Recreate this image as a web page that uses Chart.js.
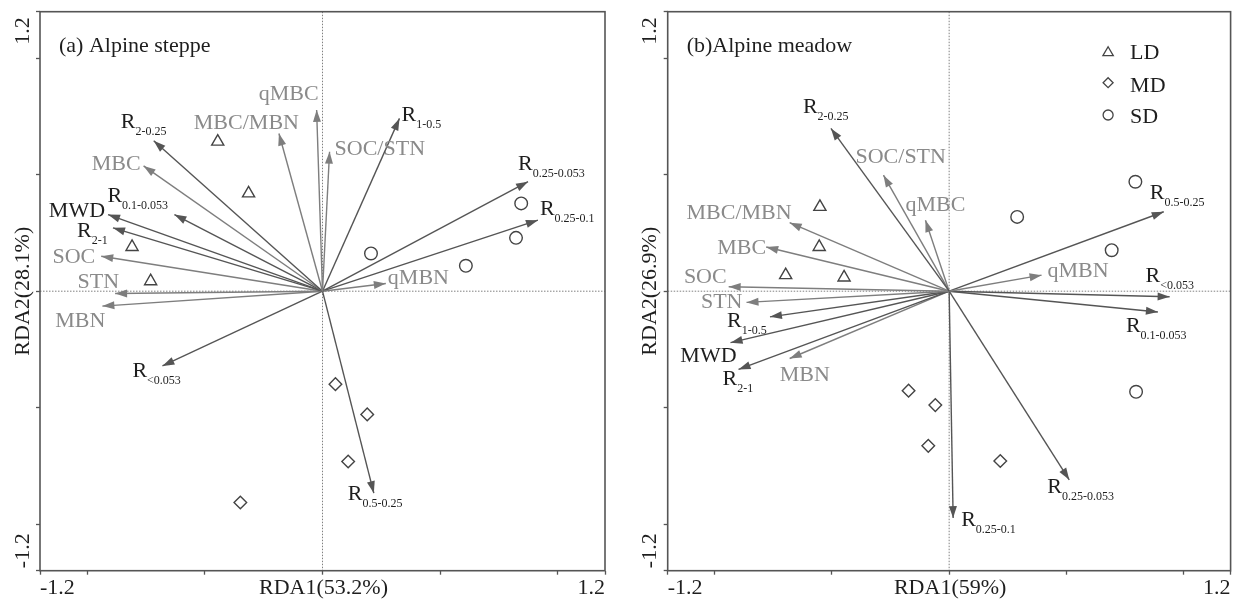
<!DOCTYPE html>
<html>
<head>
<meta charset="utf-8">
<script src="https://cdn.jsdelivr.net/npm/chart.js@4/dist/chart.umd.min.js"></script>
<style>
  html, body { margin: 0; padding: 0; background: #ffffff; }
  #wrap { position: relative; width: 1239px; height: 603px; overflow: hidden; }
  .panel { position: absolute; top: 0; height: 603px; }
  #pa { left: 0; width: 620px; }
  #pb { left: 620px; width: 619px; }
</style>
</head>
<body>
<div id="wrap">
  <div class="panel" id="pa"><canvas id="ca"></canvas></div>
  <div class="panel" id="pb"><canvas id="cb"></canvas></div>
</div>
<script>
// ---------------- DATA ----------------
const axisMin = -1.2;
const axisMax = 1.2;
const tickValues = [-1.2, -1, -0.5, 0, 0.5, 1, 1.2];
const edgeTickLabels = ['-1.2', '1.2'];
const siteGroups = ['LD', 'MD', 'SD'];

// (a) Alpine steppe – explanatory arrows
const steppeVarLabels = ['qMBC', 'MBC/MBN', 'SOC/STN', 'R_1-0.5', 'R_2-0.25', 'MBC', 'R_0.1-0.053', 'MWD', 'R_2-1',
  'SOC', 'STN', 'MBN', 'R_<0.053', 'R_0.5-0.25', 'qMBN', 'R_0.25-0.053', 'R_0.25-0.1'];
const steppeVarRDA1 = [-0.025, -0.185, 0.030, 0.327, -0.717, -0.760, -0.629, -0.911, -0.890,
  -0.940, -0.881, -0.935, -0.680, 0.218, 0.269, 0.873, 0.915];
const steppeVarRDA2 = [0.778, 0.677, 0.599, 0.742, 0.646, 0.538, 0.329, 0.329, 0.272,
  0.150, -0.010, -0.064, -0.321, -0.867, 0.033, 0.470, 0.305];
// (a) sites
const steppeLD_RDA1 = [-0.445, -0.314, -0.809, -0.730];
const steppeLD_RDA2 = [0.642, 0.420, 0.190, 0.043];
const steppeMD_RDA1 = [0.055, 0.190, 0.109, -0.349];
const steppeMD_RDA2 = [-0.399, -0.529, -0.731, -0.907];
const steppeSD_RDA1 = [0.206, 0.609, 0.844, 0.822];
const steppeSD_RDA2 = [0.162, 0.109, 0.377, 0.229];

// (b) Alpine meadow – explanatory arrows
const meadowVarLabels = ['R_2-0.25', 'SOC/STN', 'qMBC', 'MBC/MBN', 'MBC', 'SOC', 'STN', 'R_1-0.5', 'MWD', 'R_2-1',
  'MBN', 'qMBN', 'R_0.5-0.25', 'R_<0.053', 'R_0.1-0.053', 'R_0.25-0.053', 'R_0.25-0.1'];
const meadowVarRDA1 = [-0.504, -0.280, -0.101, -0.680, -0.780, -0.940, -0.864, -0.764, -0.932, -0.898,
  -0.680, 0.394, 0.915, 0.940, 0.890, 0.512, 0.017];
const meadowVarRDA2 = [0.699, 0.498, 0.305, 0.294, 0.190, 0.019, -0.048, -0.110, -0.221, -0.336,
  -0.289, 0.069, 0.341, -0.024, -0.089, -0.810, -0.974];
// (b) sites
const meadowLD_RDA1 = [-0.551, -0.554, -0.697, -0.448];
const meadowLD_RDA2 = [0.362, 0.190, 0.069, 0.059];
const meadowMD_RDA1 = [-0.173, -0.059, -0.089, 0.218];
const meadowMD_RDA2 = [-0.427, -0.489, -0.664, -0.729];
const meadowSD_RDA1 = [0.794, 0.290, 0.693, 0.797];
const meadowSD_RDA2 = [0.470, 0.319, 0.176, -0.432];

// ---------------- LAYOUT / STYLE (not data) ----------------
// label offsets in pixels from the arrow tip: [dx, dy(baseline), align]
const labelLayout = {
  steppe: {
    'qMBC': [2, -10, 'right'], 'MBC/MBN': [20, -5, 'right'], 'SOC/STN': [5, 3, 'left'],
    'R_1-0.5': [2, 3, 'left'], 'R_2-0.25': [-33, -13, 'left'], 'MBC': [-3, 4, 'right'],
    'R_0.1-0.053': [-67, -13, 'left'], 'MWD': [-3, 2, 'right'], 'R_2-1': [-36, 9, 'left'],
    'SOC': [-6, 7, 'right'], 'STN': [4, -6, 'right'], 'MBN': [3, 21, 'right'],
    'R_<0.053': [-30, 11, 'left'], 'R_0.5-0.25': [-26, 7, 'left'], 'qMBN': [2, 0, 'left'],
    'R_0.25-0.053': [-10, -12, 'left'], 'R_0.25-0.1': [2, -5, 'left']
  },
  meadow: {
    'R_2-0.25': [-28, -15, 'left'], 'SOC/STN': [-28, -12, 'left'], 'qMBC': [-20, -9, 'left'],
    'MBC/MBN': [2, -4, 'right'], 'MBC': [0, 7, 'right'], 'SOC': [-2, -4, 'right'],
    'STN': [-4, 6, 'right'], 'R_1-0.5': [-43, 10, 'left'], 'MWD': [6, 19, 'right'],
    'R_2-1': [-16, 16, 'left'], 'MBN': [-10, 22, 'left'], 'qMBN': [6, 2, 'left'],
    'R_0.5-0.25': [-14, -13, 'left'], 'R_<0.053': [-24, -15, 'left'], 'R_0.1-0.053': [-32, 20, 'left'],
    'R_0.25-0.053': [-22, 13, 'left'], 'R_0.25-0.1': [8, 8, 'left']
  }
};

const FONT_FAMILY = '"Liberation Serif", "Times New Roman", serif';
const MAIN_FONT = '22px ' + FONT_FAMILY;
const SUB_FONT = '12px ' + FONT_FAMILY;
const DARK_ARROW = '#555555';
const LIGHT_ARROW = '#7e7e7e';
const DARK_TEXT = '#1e1e1e';
const LIGHT_TEXT = '#8a8a8a';
const FRAME = '#555555';
const MARKER = '#444444';

function isAggregate(name) { return name.startsWith('R_') || name === 'MWD'; }

function drawRichLabel(ctx, text, x, y, align, color) {
  const idx = text.indexOf('_');
  const main = idx >= 0 ? text.slice(0, idx) : text;
  const sub = idx >= 0 ? text.slice(idx + 1) : '';
  ctx.font = MAIN_FONT;
  const wMain = ctx.measureText(main).width;
  ctx.font = SUB_FONT;
  const wSub = sub ? ctx.measureText(sub).width : 0;
  const total = wMain + wSub;
  let x0 = x;
  if (align === 'right') x0 = x - total;
  else if (align === 'center') x0 = x - total / 2;
  ctx.fillStyle = color;
  ctx.textAlign = 'left';
  ctx.textBaseline = 'alphabetic';
  ctx.font = MAIN_FONT;
  ctx.fillText(main, x0, y);
  if (sub) {
    ctx.font = SUB_FONT;
    ctx.fillText(sub, x0 + wMain, y + 7);
  }
}

function drawMarker(ctx, style, x, y, r) {
  ctx.beginPath();
  if (style === 'triangle') {
    for (let k = 0; k < 3; k++) {
      const a = k * 2 * Math.PI / 3;
      const px = x + Math.sin(a) * r, py = y - Math.cos(a) * r;
      if (k === 0) ctx.moveTo(px, py); else ctx.lineTo(px, py);
    }
    ctx.closePath();
  } else if (style === 'rectRot') {
    ctx.moveTo(x, y - r); ctx.lineTo(x + r, y); ctx.lineTo(x, y + r); ctx.lineTo(x - r, y); ctx.closePath();
  } else {
    ctx.arc(x, y, r, 0, Math.PI * 2);
  }
  ctx.stroke();
}

const groupStyles = { LD: 'triangle', MD: 'rectRot', SD: 'circle' };

function makeChart(cfg) {
  const datasets = [];
  cfg.labels.forEach((name, i) => {
    datasets.push({
      type: 'scatter',
      label: name,
      kind: 'arrow',
      data: [{ x: 0, y: 0 }, { x: cfg.rda1[i], y: cfg.rda2[i] }],
      showLine: true,
      borderColor: isAggregate(name) ? DARK_ARROW : LIGHT_ARROW,
      borderWidth: 1.4,
      pointRadius: 0,
      pointHoverRadius: 0,
      fill: false
    });
  });
  siteGroups.forEach(g => {
    const xs = cfg.sites[g][0], ys = cfg.sites[g][1];
    datasets.push({
      type: 'scatter',
      label: g,
      kind: 'site',
      data: xs.map((v, i) => ({ x: v, y: ys[i] })),
      pointStyle: groupStyles[g],
      pointRadius: g === 'LD' ? 7 : 6.3,
      pointBorderWidth: 1.4,
      borderColor: MARKER,
      backgroundColor: 'rgba(0,0,0,0)',
      showLine: false
    });
  });

  const plugin = {
    id: 'rdaDecor',
    beforeDatasetsDraw(chart) {
      const { ctx, chartArea: a, scales: { x, y } } = chart;
      ctx.save();
      ctx.strokeStyle = '#808080';
      ctx.lineWidth = 1;
      ctx.setLineDash([1.5, 1.5]);
      const x0 = x.getPixelForValue(0), y0 = y.getPixelForValue(0);
      ctx.beginPath();
      ctx.moveTo(x0, a.top); ctx.lineTo(x0, a.bottom);
      ctx.moveTo(a.left, y0); ctx.lineTo(a.right, y0);
      ctx.stroke();
      ctx.restore();
    },
    afterDatasetsDraw(chart) {
      const { ctx, chartArea: a, scales: { x, y } } = chart;
      ctx.save();
      const ox = x.getPixelForValue(0), oy = y.getPixelForValue(0);
      // arrowheads and labels
      chart.data.datasets.forEach(ds => {
        if (ds.kind !== 'arrow') return;
        const tip = ds.data[1];
        const tx = x.getPixelForValue(tip.x), ty = y.getPixelForValue(tip.y);
        const dx = tx - ox, dy = ty - oy;
        const len = Math.hypot(dx, dy) || 1;
        const ux = dx / len, uy = dy / len;
        const L = 12, W = 4;
        const bx = tx - ux * L, by = ty - uy * L;
        ctx.fillStyle = ds.borderColor;
        ctx.beginPath();
        ctx.moveTo(tx, ty);
        ctx.lineTo(bx - uy * W, by + ux * W);
        ctx.lineTo(bx + uy * W, by - ux * W);
        ctx.closePath();
        ctx.fill();
        const lay = cfg.layout[ds.label] || [4, 0, 'left'];
        drawRichLabel(ctx, ds.label, tx + lay[0], ty + lay[1], lay[2],
          isAggregate(ds.label) ? DARK_TEXT : LIGHT_TEXT);
      });
      // frame
      ctx.strokeStyle = FRAME;
      ctx.lineWidth = 1.6;
      ctx.setLineDash([]);
      ctx.strokeRect(a.left, a.top, a.right - a.left, a.bottom - a.top);
      // tick labels and axis titles
      ctx.fillStyle = DARK_TEXT;
      ctx.font = MAIN_FONT;
      ctx.textBaseline = 'alphabetic';
      const baseY = a.bottom + 23.5;
      ctx.textAlign = 'left';
      ctx.fillText(edgeTickLabels[0], x.getPixelForValue(axisMin), baseY);
      ctx.textAlign = 'right';
      ctx.fillText(edgeTickLabels[1], x.getPixelForValue(axisMax), baseY);
      ctx.textAlign = 'center';
      ctx.fillText(cfg.xTitle, (a.left + a.right) / 2 + 1, baseY);
      const baseX = a.left - 11.3;
      const rot = (txt, yy, al) => {
        ctx.save();
        ctx.translate(baseX, yy);
        ctx.rotate(-Math.PI / 2);
        ctx.textAlign = al;
        ctx.fillText(txt, 0, 0);
        ctx.restore();
      };
      rot(edgeTickLabels[1], y.getPixelForValue(axisMax) + 5.5, 'right');
      rot(edgeTickLabels[0], y.getPixelForValue(axisMin) - 2.5, 'left');
      rot(cfg.yTitle, (a.top + a.bottom) / 2, 'center');
      // panel title
      ctx.textAlign = 'left';
      ctx.fillText(cfg.title, a.left + 19, a.top + 40.5);
      // legend
      if (cfg.legend) {
        ctx.strokeStyle = MARKER;
        ctx.lineWidth = 1.3;
        const rows = [[51.7, 58.5], [82.7, 91.5], [115, 123]];
        siteGroups.forEach((g, i) => {
          const mx = a.right - 122.5;
          drawMarker(ctx, groupStyles[g], mx, rows[i][0] + (g === 'LD' ? 1 : 0), g === 'LD' ? 6 : 5);
          ctx.fillStyle = DARK_TEXT;
          ctx.textAlign = 'left';
          ctx.fillText(g, a.right - 100.5, rows[i][1]);
        });
      }
      ctx.restore();
    }
  };

  const axisCommon = {
    type: 'linear',
    min: axisMin,
    max: axisMax,
    afterBuildTicks: (s) => { s.ticks = tickValues.map(v => ({ value: v })); },
    ticks: { display: false },
    grid: {
      display: true,
      drawOnChartArea: false,
      drawTicks: true,
      tickLength: 4,
      tickColor: FRAME,
      tickWidth: 1.3
    },
    border: { display: false }
  };

  return new Chart(document.getElementById(cfg.canvas), {
    type: 'scatter',
    data: { datasets },
    options: {
      responsive: true,
      maintainAspectRatio: false,
      animation: false,
      events: [],
      layout: { padding: { left: 0, top: 11.7, right: cfg.padRight, bottom: 0 } },
      plugins: { legend: { display: false }, tooltip: { enabled: false }, title: { display: false } },
      scales: {
        x: Object.assign({}, axisCommon, { position: 'bottom', afterFit: (s) => { s.height = 32.3; } }),
        y: Object.assign({}, axisCommon, { position: 'left', afterFit: (s) => { s.width = cfg.yAxisWidth; } })
      }
    },
    plugins: [plugin]
  });
}

makeChart({
  canvas: 'ca', title: '(a) Alpine steppe', xTitle: 'RDA1(53.2%)', yTitle: 'RDA2(28.1%)',
  labels: steppeVarLabels, rda1: steppeVarRDA1, rda2: steppeVarRDA2,
  sites: { LD: [steppeLD_RDA1, steppeLD_RDA2], MD: [steppeMD_RDA1, steppeMD_RDA2], SD: [steppeSD_RDA1, steppeSD_RDA2] },
  layout: labelLayout.steppe, legend: false, yAxisWidth: 40, padRight: 15
});
makeChart({
  canvas: 'cb', title: '(b)Alpine meadow', xTitle: 'RDA1(59%)', yTitle: 'RDA2(26.9%)',
  labels: meadowVarLabels, rda1: meadowVarRDA1, rda2: meadowVarRDA2,
  sites: { LD: [meadowLD_RDA1, meadowLD_RDA2], MD: [meadowMD_RDA1, meadowMD_RDA2], SD: [meadowSD_RDA1, meadowSD_RDA2] },
  layout: labelLayout.meadow, legend: true, yAxisWidth: 47.7, padRight: 6.7
});
</script>
</body>
</html>
